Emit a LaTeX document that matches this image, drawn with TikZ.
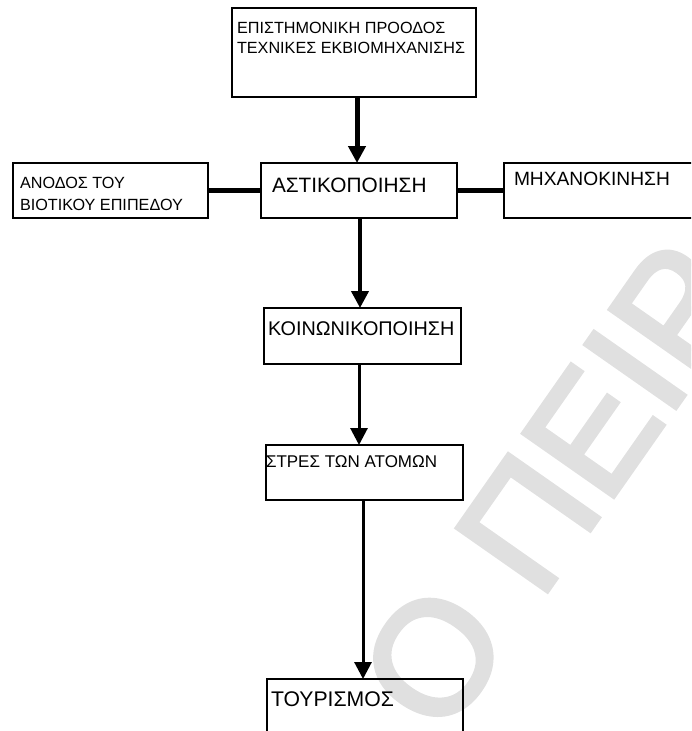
\documentclass[tikz,border=0pt]{standalone}
\usepackage{fontspec}
\setmainfont{Liberation Sans}
\newfontfamily\markfont[FakeBold=3]{Liberation Sans}
\usetikzlibrary{arrows.meta}
\newcommand\fsz[1]{\fontsize{#1}{#1}\selectfont}
\begin{document}
\begin{tikzpicture}[x=1pt,y=-1pt,
  box/.style={draw=black, line width=1.2pt, rectangle, inner sep=0pt, outer sep=0pt},
  lbl/.style={anchor=base west, inner sep=0pt, outer sep=0pt, text=black},
  link/.style={draw=black, line width=4.5pt},
  arr/.style={draw=black, -{Triangle[width=17pt,length=17pt]}},
  wm/.style={text=black!12, inner sep=0pt, outer sep=0pt, anchor=base west,
             font=\markfont\fsz{160}}
]
\useasboundingbox (0,0) rectangle (691,731);
\clip (0,0) rectangle (691,731);

% faint diagonal lettering in the background
\node[wm, rotate=55] (mark) at (443,740) {Ο ΠΕΙΡ};

% boxes
\node[box, minimum width=244pt, minimum height=89pt] (top)   at (354,52.5)   {};
\node[box, minimum width=195pt, minimum height=55pt] (left)  at (110.5,190.5) {};
\node[box, minimum width=196pt, minimum height=55pt] (ast)   at (359,190.5)  {};
\node[box, minimum width=216pt, minimum height=55pt] (right) at (612,190.5)  {};
\node[box, minimum width=197pt, minimum height=56pt] (koin)  at (362.5,336)  {};
\node[box, minimum width=197pt, minimum height=55pt] (stres) at (364.5,472.5) {};
\node[box, minimum width=196pt, minimum height=81pt] (tour)  at (365,719.5)  {};

% texts
\node[lbl, font=\fsz{16.2}] (t1) at (237,33) {ΕΠΙΣΤΗΜΟΝΙΚΗ ΠΡΟΟΔΟΣ};
\node[lbl, font=\fsz{16.2}] (t2) at (237,53) {ΤΕΧΝΙΚΕΣ ΕΚΒΙΟΜΗΧΑΝΙΣΗΣ};
\node[lbl, font=\fsz{16.2}] (l1) at (20,188) {ΑΝΟΔΟΣ ΤΟΥ};
\node[lbl, font=\fsz{16.2}] (l2) at (20,210) {ΒΙΟΤΙΚΟΥ ΕΠΙΠΕΔΟΥ};
\node[lbl, font=\fsz{20.8}] (a1) at (272,192) {ΑΣΤΙΚΟΠΟΙΗΣΗ};
\node[lbl, font=\fsz{19.2}] (r1) at (514,185) {ΜΗΧΑΝΟΚΙΝΗΣΗ};
\node[lbl, font=\fsz{19.8}] (k1) at (268,335) {ΚΟΙΝΩΝΙΚΟΠΟΙΗΣΗ};
\node[lbl, font=\fsz{17}]   (s1) at (266,467) {ΣΤΡΕΣ ΤΩΝ ΑΤΟΜΩΝ};
\node[lbl, font=\fsz{21.2}] (o1) at (271,706) {ΤΟΥΡΙΣΜΟΣ};

% connectors
\draw[link] (left.east) -- (ast.west);
\draw[link] (ast.east) -- (right.west);
\draw[arr, line width=5pt] ([xshift=3pt]top.south) -- ([xshift=3pt]top.south |- ast.north);
\draw[arr, line width=4pt] ([xshift=1pt]ast.south) -- ([xshift=1pt]ast.south |- koin.north);
\draw[arr, line width=3pt] ([xshift=-3.5pt]koin.south) -- ([xshift=-3.5pt]koin.south |- stres.north);
\draw[arr, line width=3pt] ([xshift=-1.5pt]stres.south) -- ([xshift=-1.5pt]stres.south |- tour.north);
\end{tikzpicture}
\end{document}
